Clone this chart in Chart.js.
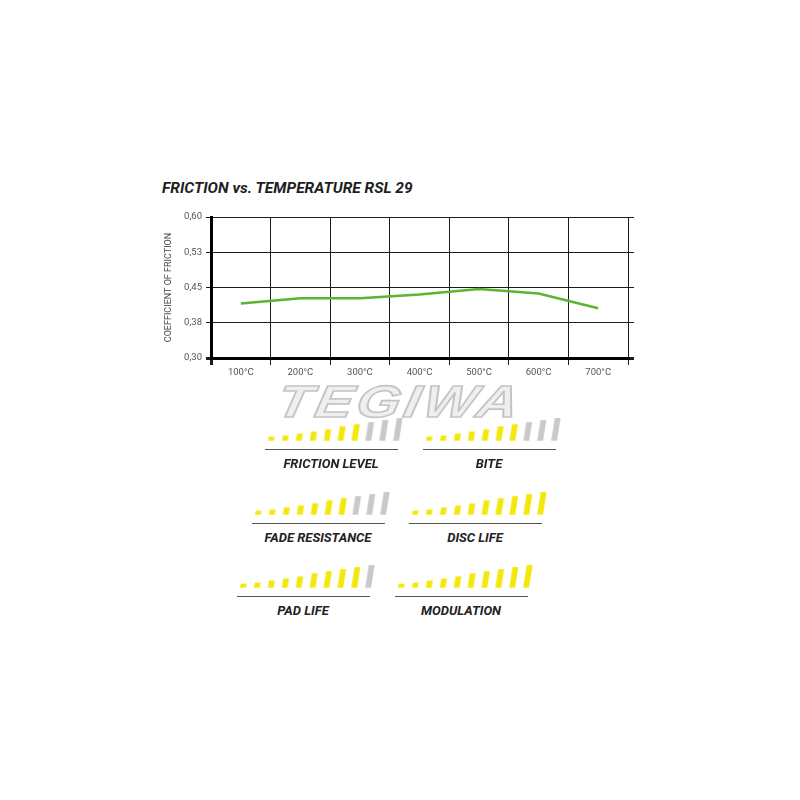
<!DOCTYPE html>
<html>
<head>
<meta charset="utf-8">
<script src="https://cdn.jsdelivr.net/npm/chart.js@4.4.1/dist/chart.umd.min.js"></script>
<style>
  html, body { margin: 0; padding: 0; background: #fff; }
  body { width: 800px; height: 800px; position: relative; overflow: hidden; font-family: Roboto, "Liberation Sans", sans-serif; }
  .abs { position: absolute; }
  #title { left: 162px; top: 179px; font-size: 15.5px; font-weight: 700; font-style: italic; color: #1e1e1e; white-space: nowrap; }
  #logo { left: 280px; top: 376px; width: 240px; text-align: center; font-family: "Liberation Sans", sans-serif; font-size: 45px; font-weight: 700; font-style: italic; color: #efefef; -webkit-text-stroke: 1.6px #c4c4c4; letter-spacing: 3px; transform: scaleX(1.25) skewX(-9deg); transform-origin: 50% 50%; white-space: nowrap; }
  .rate { position: absolute; width: 139px; height: 24px; transform: skewX(-9deg); transform-origin: 0 100%; }
  .uline { position: absolute; width: 133px; height: 0; border-top: 1.5px solid #555; }
  .rlabel { position: absolute; width: 180px; text-align: center; font-size: 13px; font-weight: 700; font-style: italic; color: #222; white-space: nowrap; }
</style>
</head>
<body>
<div id="title" class="abs">FRICTION vs. TEMPERATURE RSL 29</div>
<canvas id="canvas1" class="abs" width="500" height="190" style="left:150px;top:200px;"></canvas>
<div id="logo" class="abs">TEGIWA</div>
<div id="ratings"></div>
<script>
// friction curve
const temps = ['100°C', '200°C', '300°C', '400°C', '500°C', '600°C', '700°C'];
const friction = [0.416, 0.427, 0.427, 0.435, 0.447, 0.437, 0.406];
const yTicks = [0.30, 0.375, 0.45, 0.525, 0.60];
const yTickLabels = ['0,30', '0,38', '0,45', '0,53', '0,60'];

// pad ratings (filled bars out of 10)
const ratingNames = ['FRICTION LEVEL', 'BITE', 'FADE RESISTANCE', 'DISC LIFE', 'PAD LIFE', 'MODULATION'];
const ratingScores = [7, 7, 7, 10, 9, 10];
const barHeights = [4, 5, 7, 9, 11, 14, 16, 18, 20, 22];

const gridColor = '#1c1c1c';
const tickFont = { family: 'Roboto, "Liberation Sans", sans-serif', size: 9.5 };

function setTicks(scale) {
    scale.ticks = yTicks.map(v => ({ value: v }));
}

function FrictionChart() {
    const data = {
        labels: temps,
        datasets: [{
            data: friction,
            borderColor: '#5ab532',
            borderWidth: 2.5,
            pointRadius: 0,
            tension: 0,
            fill: false
        }]
    };
    const config = {
        type: 'line',
        data: data,
        options: {
            responsive: false,
            animation: false,
            events: [],
            layout: { padding: { top: 17, right: 16, left: 0, bottom: 0 } },
            plugins: { legend: { display: false }, tooltip: { enabled: false } },
            scales: {
                x: {
                    offset: true,
                    grid: {
                        offset: true,
                        color: gridColor,
                        lineWidth: ctx => ctx.index === 0 ? 3 : 1,
                        tickLength: 7
                    },
                    border: { display: true, color: '#000', width: 3 },
                    ticks: { color: '#555', font: tickFont, padding: 2, maxRotation: 0 },
                    afterFit: s => { s.height = 32; }
                },
                y: {
                    min: 0.30,
                    max: 0.60,
                    afterBuildTicks: setTicks,
                    grid: {
                        color: gridColor,
                        lineWidth: ctx => ctx.index === 0 ? 3 : 1,
                        tickLength: 5
                    },
                    border: { display: true, color: '#000', width: 3 },
                    ticks: {
                        color: '#555',
                        font: tickFont,
                        padding: 4,
                        callback: (v, i) => yTickLabels[i]
                    },
                    title: {
                        display: true,
                        text: 'COEFFICIENT OF FRICTION',
                        color: '#444',
                        font: { family: 'Roboto, "Liberation Sans", sans-serif', size: 9 },
                        padding: { top: 13, bottom: 0 }
                    },
                    afterFit: s => { s.width = 61; }
                },
                y2: {
                    position: 'right',
                    min: 0.30,
                    max: 0.60,
                    afterBuildTicks: setTicks,
                    grid: {
                        drawOnChartArea: false,
                        color: gridColor,
                        lineWidth: ctx => ctx.index === 0 ? 3 : 1,
                        tickLength: 6
                    },
                    border: { display: false },
                    ticks: { display: false },
                    afterFit: s => { s.width = 6; }
                }
            }
        }
    };
    new Chart(document.getElementById('canvas1'), config);
}

// position of each rating block: [left, bar bottom]
const ratingPos = [[264, 441], [422, 441], [251, 515], [408, 515], [236, 588], [394, 588]];

function RatingCharts() {
    const box = document.getElementById('ratings');
    ratingNames.forEach(function (name, k) {
        const left = ratingPos[k][0];
        const bottom = ratingPos[k][1];
        const cv = document.createElement('canvas');
        cv.className = 'rate';
        cv.width = 139;
        cv.height = 24;
        cv.style.left = left + 'px';
        cv.style.top = (bottom - 24) + 'px';
        box.appendChild(cv);

        const line = document.createElement('div');
        line.className = 'uline';
        line.style.left = (left + 1) + 'px';
        line.style.top = (bottom + 8) + 'px';
        box.appendChild(line);

        const lab = document.createElement('div');
        lab.className = 'rlabel';
        lab.textContent = name;
        lab.style.left = (left + 67 - 90) + 'px';
        lab.style.top = (bottom + 15) + 'px';
        box.appendChild(lab);

        const colors = barHeights.map((h, i) => i < ratingScores[k] ? '#f3e80c' : '#c9c9c9');
        new Chart(cv, {
            type: 'bar',
            data: {
                labels: barHeights.map((h, i) => i + 1),
                datasets: [{ data: barHeights, backgroundColor: colors, borderWidth: 0 }]
            },
            options: {
                responsive: false,
                animation: false,
                events: [],
                layout: { padding: 0 },
                plugins: { legend: { display: false }, tooltip: { enabled: false } },
                datasets: { bar: { categoryPercentage: 1, barPercentage: 0.42 } },
                scales: {
                    x: { display: false },
                    y: { display: false, min: 0, max: 23 }
                }
            }
        });
    });
}

FrictionChart();
RatingCharts();
</script>
</body>
</html>
